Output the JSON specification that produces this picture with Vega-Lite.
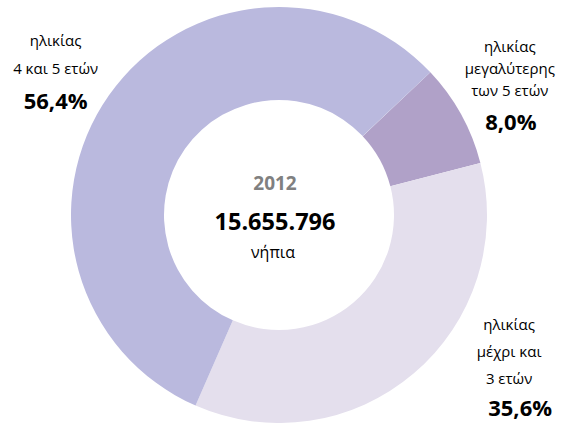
{
  "$schema": "https://vega.github.io/schema/vega-lite/v6.json",
  "width": 558,
  "height": 416,
  "autosize": {"type": "none"},
  "padding": {"left": 0, "top": 7, "right": 5, "bottom": 0},
  "background": "white",
  "config": {"view": {"stroke": null}, "text": {"font": "Open Sans"}},
  "data": {
    "values": [
      {"group": "ηλικίας μεγαλύτερης των 5 ετών", "key": "g8", "share": 8.0, "ord": 1, "lines": ["ηλικίας", "μεγαλύτερης", "των 5 ετών"], "pct": "8,0%"},
      {"group": "ηλικίας μέχρι και 3 ετών", "key": "g35", "share": 35.6, "ord": 2, "lines": ["ηλικίας", "μέχρι και", "3 ετών"], "pct": "35,6%"},
      {"group": "ηλικίας 4 και 5 ετών", "key": "g56", "share": 56.4, "ord": 3, "lines": ["ηλικίας", "4 και 5 ετών"], "pct": "56,4%"}
    ]
  },
  "encoding": {
    "theta": {"field": "share", "type": "quantitative", "stack": true, "scale": {"range": [0.815, 7.098]}},
    "order": {"field": "ord", "type": "quantitative"}
  },
  "layer": [
    {
      "mark": {"type": "arc", "innerRadius": 115, "outerRadius": 208, "stroke": null},
      "encoding": {
        "color": {"field": "key", "type": "nominal", "legend": null,
          "scale": {"domain": ["g8", "g35", "g56"], "range": ["#b0a1c8", "#e4dfed", "#bab9de"]}}
      }
    },
    {
      "mark": {"type": "text", "radius": 250, "fontSize": 15, "lineHeight": 28, "baseline": "middle", "align": "center", "dx": -19, "dy": -30, "color": "#000000"},
      "encoding": {"text": {"condition": {"test": "datum.key === 'g56'", "field": "lines"}, "value": ""}}
    },
    {
      "mark": {"type": "text", "radius": 250, "fontSize": 22, "fontWeight": "bold", "baseline": "middle", "align": "center", "dx": -19, "dy": 31, "color": "#000000"},
      "encoding": {"text": {"condition": {"test": "datum.key === 'g56'", "field": "pct"}, "value": ""}}
    },
    {
      "mark": {"type": "text", "radius": 250, "fontSize": 15, "lineHeight": 22, "baseline": "middle", "align": "center", "dx": 12, "dy": -47, "color": "#000000"},
      "encoding": {"text": {"condition": {"test": "datum.key === 'g8'", "field": "lines"}, "value": ""}}
    },
    {
      "mark": {"type": "text", "radius": 250, "fontSize": 22, "fontWeight": "bold", "baseline": "middle", "align": "center", "dx": 13, "dy": 29, "color": "#000000"},
      "encoding": {"text": {"condition": {"test": "datum.key === 'g8'", "field": "pct"}, "value": ""}}
    },
    {
      "mark": {"type": "text", "radius": 250, "fontSize": 15, "lineHeight": 27, "baseline": "middle", "align": "center", "dx": 68, "dy": -80, "color": "#000000"},
      "encoding": {"text": {"condition": {"test": "datum.key === 'g35'", "field": "lines"}, "value": ""}}
    },
    {
      "mark": {"type": "text", "radius": 250, "fontSize": 22, "fontWeight": "bold", "baseline": "middle", "align": "center", "dx": 79, "dy": 4, "color": "#000000"},
      "encoding": {"text": {"condition": {"test": "datum.key === 'g35'", "field": "pct"}, "value": ""}}
    },
    {
      "data": {"values": [{"year": "2012", "total": "15.655.796", "unit": "νήπια"}]},
      "layer": [
        {
          "mark": {"type": "text", "fontSize": 19, "fontWeight": "bold", "color": "#808080", "baseline": "middle", "align": "center", "dx": -4, "dy": -31},
          "encoding": {"text": {"field": "year"}}
        },
        {
          "mark": {"type": "text", "fontSize": 23.5, "fontWeight": "bold", "color": "#000000", "baseline": "middle", "align": "center", "dx": -4, "dy": 8},
          "encoding": {"text": {"field": "total"}}
        },
        {
          "mark": {"type": "text", "fontSize": 16, "color": "#000000", "baseline": "middle", "align": "center", "dx": -6, "dy": 38},
          "encoding": {"text": {"field": "unit"}}
        }
      ],
      "encoding": {"theta": null, "order": null}
    }
  ]
}
